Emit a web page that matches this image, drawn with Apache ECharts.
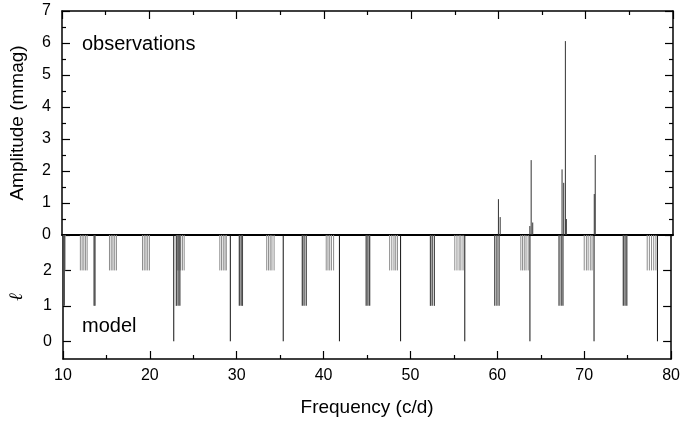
<!DOCTYPE html>
<html>
<head>
<meta charset="utf-8">
<script src="https://cdn.jsdelivr.net/npm/echarts@6/dist/echarts.min.js"></script>
<style>
  html, body { margin: 0; padding: 0; background: #fff; }
  #chart { width: 683px; height: 423px; }
</style>
</head>
<body>
<div id="chart"></div>
<script>
// observed frequencies (c/d) and amplitudes (mmag)
const obsFreq = [60.0, 60.2, 63.6, 63.75, 63.93, 67.29, 67.48, 67.67, 67.78, 70.98, 71.09];
const obsAmp = [1.12, 0.56, 0.28, 2.34, 0.39, 2.05, 1.63, 6.06, 0.5, 1.28, 2.5];

// model frequencies by degree l
const modelL0 = [22.75, 29.26, 35.35, 41.82, 48.86, 56.25, 63.75, 71.13, 78.43];
const modelL1 = [
  10.05, 10.15,
  13.58, 13.68,
  23.05, 23.25, 23.45,
  30.3, 30.5, 30.65,
  37.55, 37.75, 38.0,
  44.9, 45.1, 45.3,
  52.3, 52.5, 52.75,
  59.7, 59.95, 60.2,
  67.1, 67.35, 67.55,
  74.5, 74.7, 74.9
];
const modelL2 = [
  10.1, 10.25,
  12.0, 12.2, 12.4, 12.6, 12.78,
  15.35, 15.55, 15.75, 15.95, 16.15,
  19.15, 19.35, 19.55, 19.75, 19.95,
  23.15, 23.35, 23.55, 23.75, 23.95,
  28.05, 28.25, 28.45, 28.65, 28.8,
  33.45, 33.65, 33.85, 34.05, 34.3,
  40.3, 40.5, 40.7, 40.9, 41.15,
  47.6, 47.85, 48.1, 48.3, 48.5,
  55.1, 55.35, 55.6, 55.8, 56.05,
  62.7, 62.9, 63.1, 63.3, 63.55,
  70.0, 70.25, 70.45, 70.7, 70.9,
  77.25, 77.5, 77.75, 78.0, 78.25
];
const ellTicks = [0, 1, 2];

// in the lower panel the zero line sits at 3, each l line drops to its own level
const zeroLevel = 3;

const font = "Liberation Sans, Arial, sans-serif";

function stickSeries(name, xi, yi, data, color, width, base) {
  return {
    name: name,
    type: "custom",
    xAxisIndex: xi,
    yAxisIndex: yi,
    clip: true,
    data: data,
    renderItem: function (params, api) {
      const p0 = api.coord([api.value(0), base]);
      const p1 = api.coord([api.value(0), api.value(1)]);
      return {
        type: "line",
        shape: { x1: p0[0], y1: p0[1], x2: p1[0], y2: p1[1] },
        style: { stroke: color, lineWidth: width }
      };
    }
  };
}

const chart = echarts.init(document.getElementById("chart"));

const tickStyle = { lineStyle: { color: "#000", width: 1.2 } };
const frame = { show: true, onZero: false, lineStyle: { color: "#000", width: 1.5 } };

const option = {
  animation: false,
  textStyle: { fontFamily: font },
  grid: [
    { left: 60, right: 10, top: 11, height: 224 },
    { left: 60, right: 10, top: 235, height: 124 }
  ],
  xAxis: [
    {
      // the zero line between both panels
      gridIndex: 0, type: "value", min: 10, max: 80, interval: 10, position: "bottom",
      axisLine: { show: true, onZero: false, lineStyle: { color: "#000", width: 2 } },
      axisTick: { show: false },
      axisLabel: { show: false }, splitLine: { show: false }
    },
    {
      gridIndex: 0, type: "value", min: 10, max: 80, interval: 10, position: "top",
      axisLine: frame,
      axisTick: { show: true, inside: true, length: 8, ...tickStyle },
      minorTick: { show: true, splitNumber: 2, length: 4, ...tickStyle },
      axisLabel: { show: false }, splitLine: { show: false }
    },
    {
      gridIndex: 1, type: "value", min: 10, max: 80, interval: 10, position: "bottom",
      axisLine: frame,
      axisTick: { show: true, inside: true, length: 8, ...tickStyle },
      minorTick: { show: true, splitNumber: 2, length: 4, ...tickStyle },
      axisLabel: { color: "#000", fontSize: 16, margin: 9, fontFamily: font },
      splitLine: { show: false },
      name: "Frequency (c/d)", nameLocation: "middle", nameGap: 39,
      nameTextStyle: { color: "#000", fontSize: 19, fontFamily: font }
    }
  ],
  yAxis: [
    {
      gridIndex: 0, type: "value", min: 0, max: 7, interval: 1, position: "left",
      axisLine: frame,
      axisTick: { show: true, inside: true, length: 8, ...tickStyle },
      minorTick: { show: true, splitNumber: 2, length: 4, ...tickStyle },
      axisLabel: { color: "#000", fontSize: 16, margin: 11, fontFamily: font },
      splitLine: { show: false },
      name: "Amplitude (mmag)", nameLocation: "middle", nameGap: 35, nameRotate: 90,
      nameTextStyle: { color: "#000", fontSize: 19, fontFamily: font }
    },
    {
      gridIndex: 0, type: "value", min: 0, max: 7, interval: 1, position: "right",
      axisLine: frame,
      axisTick: { show: true, inside: true, length: 8, ...tickStyle },
      minorTick: { show: true, splitNumber: 2, length: 4, ...tickStyle },
      axisLabel: { show: false }, splitLine: { show: false }
    },
    {
      gridIndex: 1, type: "value", min: -0.5, max: zeroLevel, position: "left",
      axisLine: frame,
      axisTick: { show: true, inside: true, length: 8, customValues: ellTicks, ...tickStyle },
      axisLabel: { color: "#000", fontSize: 16, margin: 11, customValues: ellTicks, fontFamily: font },
      splitLine: { show: false },
      name: "\u2113", nameLocation: "middle", nameGap: 36, nameRotate: 90,
      nameTextStyle: { color: "#000", fontSize: 19, fontStyle: "italic", fontFamily: "DejaVu Serif, serif" }
    },
    {
      gridIndex: 1, type: "value", min: -0.5, max: zeroLevel, position: "right",
      axisLine: frame,
      axisTick: { show: true, inside: true, length: 8, customValues: ellTicks, ...tickStyle },
      axisLabel: { show: false }, splitLine: { show: false }
    }
  ],
  graphic: [
    { type: "text", left: 82, top: 34, style: { text: "observations", font: "20px " + font, fill: "#000" } },
    { type: "text", left: 82, top: 316, style: { text: "model", font: "20px " + font, fill: "#000" } }
  ],
  series: [
    stickSeries("observations", 0, 0, obsFreq.map((f, i) => [f, obsAmp[i]]), "#333", 1, 0),
    stickSeries("l=2", 2, 2, modelL2.map(f => [f, 2]), "#8c8c8c", 1, zeroLevel),
    stickSeries("l=1", 2, 2, modelL1.map(f => [f, 1]), "#4a4a4a", 1.3, zeroLevel),
    stickSeries("l=0", 2, 2, modelL0.map(f => [f, 0]), "#111", 1, zeroLevel)
  ]
};

chart.setOption(option);
</script>
</body>
</html>
